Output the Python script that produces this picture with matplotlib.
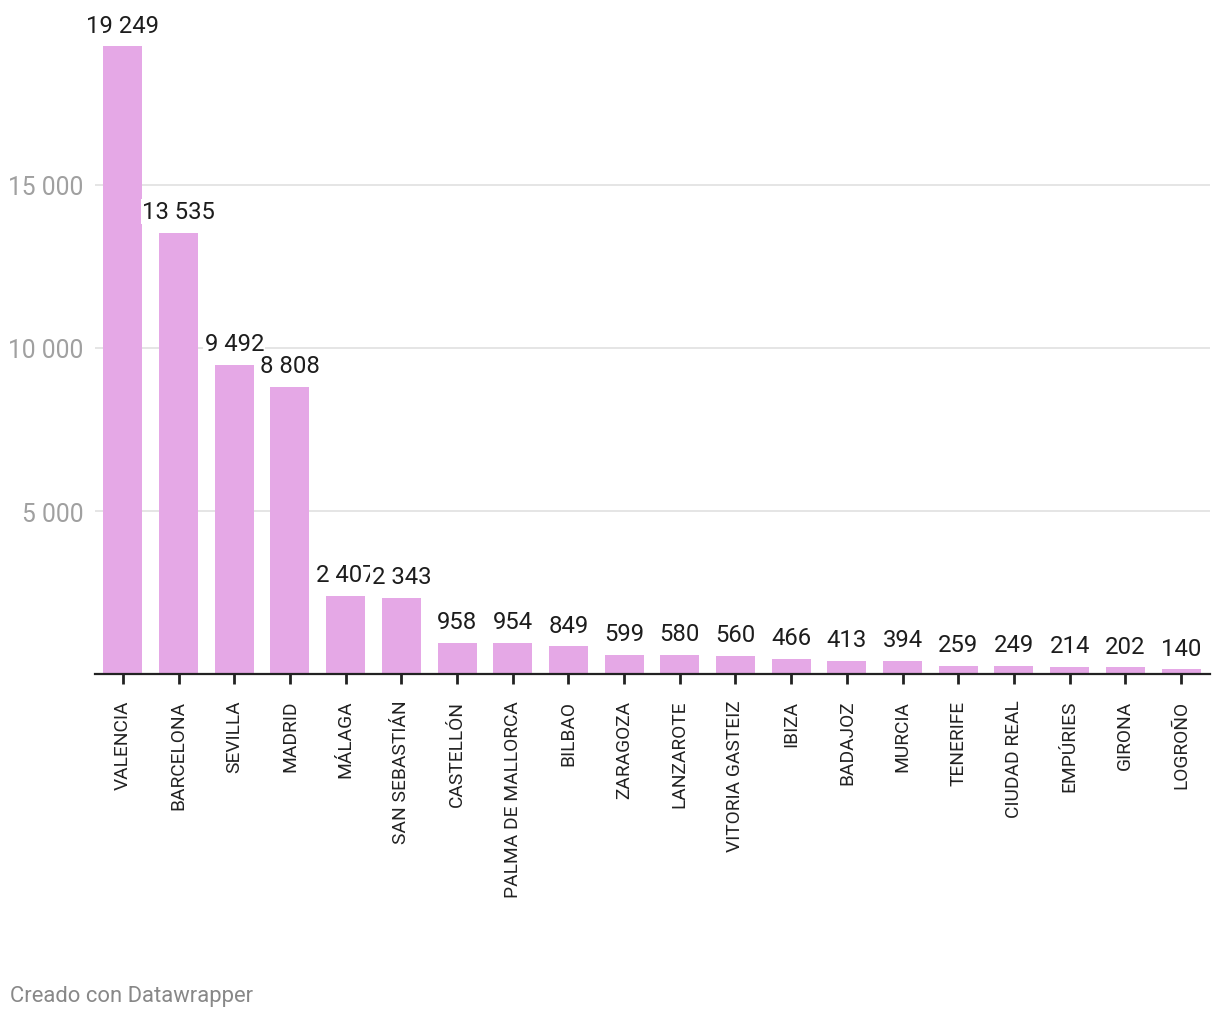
import matplotlib
matplotlib.use("Agg")
import matplotlib.pyplot as plt
from matplotlib.ticker import FixedLocator, FuncFormatter

plt.rcParams['font.family'] = ['Roboto', 'DejaVu Sans']

# Data
cities = ['VALENCIA', 'BARCELONA', 'SEVILLA', 'MADRID', 'MÁLAGA',
          'SAN SEBASTIÁN', 'CASTELLÓN', 'PALMA DE MALLORCA', 'BILBAO',
          'ZARAGOZA', 'LANZAROTE', 'VITORIA GASTEIZ', 'IBIZA', 'BADAJOZ',
          'MURCIA', 'TENERIFE', 'CIUDAD REAL', 'EMPÚRIES', 'GIRONA', 'LOGROÑO']
values = [19249, 13535, 9492, 8808, 2407, 2343, 958, 954, 849, 599,
          580, 560, 466, 413, 394, 259, 249, 214, 202, 140]
y_ticks = [5000, 10000, 15000]

BAR_COLOR = '#e5a8e6'


def fmt_thousands(v):
    return f"{int(v):,}".replace(',', ' ')


fig = plt.figure(figsize=(12.2, 10.2), dpi=100)
ax = fig.add_axes([0.0779, 0.3382, 0.9918 - 0.0779, 0.6393])

x = list(range(len(cities)))
ax.bar(x, values, width=0.7, color=BAR_COLOR, zorder=2)

ax.set_xlim(-0.5, 19.52)
ax.set_ylim(0, 20000)

# value labels, drawn in order so later ones sit on top (as in the original)
for xi, v in zip(x, values):
    ax.annotate(fmt_thousands(v), (xi, v), xytext=(0, 7), textcoords='offset points',
                ha='center', va='bottom', fontsize=17.2, color='#1d1d1d', zorder=3,
                bbox=dict(boxstyle='square,pad=0.05', fc='white', ec='none'))

# grid and axes
ax.yaxis.set_major_locator(FixedLocator(y_ticks))
ax.yaxis.set_major_formatter(FuncFormatter(lambda v, p: fmt_thousands(v)))
ax.grid(axis='y', color='#e0e0e0', linewidth=1.2, zorder=0)
ax.tick_params(axis='y', length=0, pad=8.5, labelsize=17.7, labelcolor='#a0a0a0')
for lbl in ax.get_yticklabels():
    lbl.set_horizontalalignment('right')

ax.set_xticks(x)
ax.set_xticklabels(cities, rotation=90, fontsize=13.8, color='#222222')
ax.tick_params(axis='x', length=7, width=2, color='#222222', pad=11.5)

for side in ['top', 'right', 'left']:
    ax.spines[side].set_visible(False)
ax.spines['bottom'].set_color('#222222')
ax.spines['bottom'].set_linewidth(1.6)
ax.spines['bottom'].set_zorder(4)

fig.text(10 / 1220, 1 - 997 / 1020, 'Creado con Datawrapper', fontsize=15.8,
         color='#888888', ha='left', va='center')

fig.savefig('out.png', dpi=100, facecolor='white')
